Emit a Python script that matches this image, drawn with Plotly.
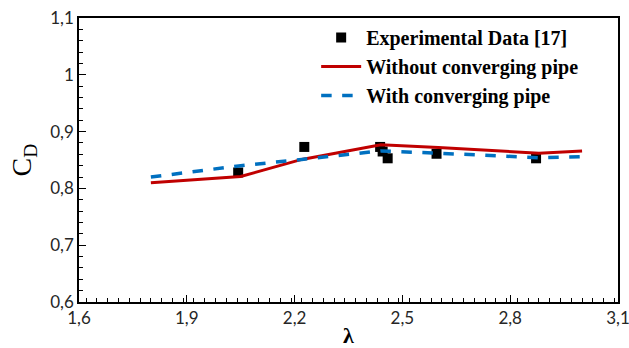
import plotly.graph_objects as go

# Discharge coefficient versus velocity ratio
lam_exp = [2.043, 2.227, 2.438, 2.445, 2.459, 2.595, 2.872]
cd_exp = [0.828, 0.873, 0.873, 0.865, 0.853, 0.861, 0.853]

lam_without = [1.80, 2.05, 2.22, 2.44, 2.60, 2.88, 3.00]
cd_without = [0.810, 0.821, 0.851, 0.877, 0.872, 0.862, 0.866]

lam_with = [1.80, 2.05, 2.22, 2.44, 2.60, 2.88, 3.00]
cd_with = [0.820, 0.840, 0.851, 0.866, 0.862, 0.854, 0.856]

fig = go.Figure()
fig.add_trace(go.Scatter(
    x=lam_exp, y=cd_exp, mode="markers", name="Experimental Data [17]",
    marker=dict(symbol="square", size=10, color="black"),
))
fig.add_trace(go.Scatter(
    x=lam_without, y=cd_without, mode="lines", name="Without converging pipe",
    line=dict(color="#C00000", width=3),
))
fig.add_trace(go.Scatter(
    x=lam_with, y=cd_with, mode="lines", name="With converging pipe",
    line=dict(color="#0070C0", width=3.5, dash="dash"),
))

tick_font = dict(family="Lato, sans-serif", size=17, color="#262626")
fig.update_layout(
    width=629, height=348,
    margin=dict(l=79, r=11, t=18, b=46),
    paper_bgcolor="white", plot_bgcolor="white",
    separators=",.",
    showlegend=True,
    legend=dict(
        x=0.44, y=1.0, xanchor="left", yanchor="top",
        bgcolor="rgba(0,0,0,0)",
        font=dict(family="Liberation Serif, serif", size=20, color="black", weight="bold"),
        tracegroupgap=0, itemwidth=40,
    ),
    xaxis=dict(
        range=[1.6, 3.1], tick0=1.6, dtick=0.3, automargin=False,
        ticklabeloverflow="allow",
        showline=True, linecolor="black", linewidth=1.5, mirror=True,
        ticks="inside", ticklen=7, tickcolor="black",
        minor=dict(dtick=0.03, ticks="inside", ticklen=4, tickcolor="black"),
        showgrid=False, zeroline=False, tickfont=tick_font,
        title=dict(text="<b>λ</b>", font=dict(family="Liberation Serif, serif", size=22, color="black"), standoff=2),
    ),
    yaxis=dict(
        range=[0.6, 1.1], tick0=0.6, dtick=0.1, automargin=False,
        ticklabeloverflow="allow",
        showline=True, linecolor="black", linewidth=1.5, mirror=True,
        ticks="inside", ticklen=7, tickcolor="black",
        minor=dict(dtick=0.02, ticks="inside", ticklen=4, tickcolor="black"),
        showgrid=False, zeroline=False, tickfont=tick_font,
        title=dict(text="C<sub>D</sub>", font=dict(family="Liberation Serif, serif", size=28, color="black"), standoff=10),
    ),
)

fig.write_html("out.html")
